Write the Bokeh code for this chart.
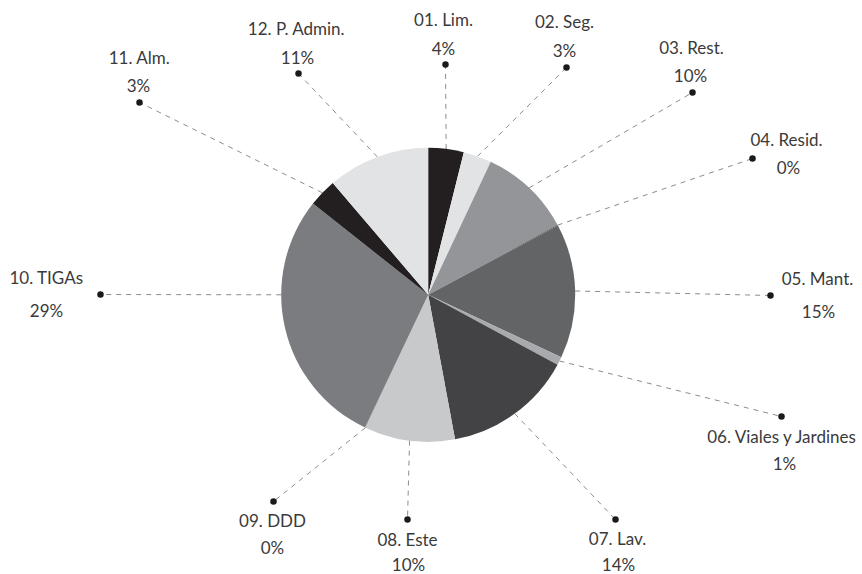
import math
from bokeh.plotting import figure
from bokeh.models import Range1d, ColumnDataSource
from bokeh.core.properties import value
from bokeh.embed import file_html
from bokeh.resources import INLINE

# ---------------- data ----------------
categories = ["01. Lim.", "02. Seg.", "03. Rest.", "04. Resid.", "05. Mant.",
              "06. Viales y Jardines", "07. Lav.", "08. Este", "09. DDD",
              "10. TIGAs", "11. Alm.", "12. P. Admin."]
values = [3.9, 3.1, 10.1, 0.1, 14.8, 0.9, 14.2, 9.9, 0.1, 28.6, 3.1, 11.25]

# ---------------- styles ----------------
colors = ["#231f20", "#e2e3e4", "#939598", "#58595b", "#636466", "#a8aaad",
          "#434345", "#c8c9cb", "#b0b1b3", "#7b7c7f", "#231f20", "#e2e3e4"]

# ---------------- layout (screen pixels) ----------------
W, H = 862, 574
CX, CY, R = 427.7, 294.3, 147.0
dot_pos = [(445, 64), (566, 67), (692, 92), (752, 158), (770, 295), (781, 416),
           (615, 519), (407, 519), (273, 501), (100, 294), (139, 102), (298, 73)]
name_off = [(-2, -45), (-2, -46), (-1, -45), (34, -19), (47, -17), (1, 20),
            (2, 19), (0, 19.5), (-1, 18.5), (-54, -17.5), (0, -45), (-2, -45)]
pct_off = [(-2, -16), (-2, -17), (-2, -17), (36, 9), (48, 16), (3, 47),
           (3, 45), (1, 45), (-1, 46), (-54, 15.5), (-1, -17), (-1, -16)]
anchor_override = {"10. TIGAs": 0.75}

FONT = "Lato"
FONT_SIZE = "17px"
TEXT_COLOR = "#3a3a3a"


def sy(y):
    return H - y


total = sum(values)
fracs = [v / total for v in values]
cum = [0.0]
for f in fracs:
    cum.append(cum[-1] + f)

starts = [math.pi / 2 - 2 * math.pi * cum[i + 1] for i in range(len(values))]
ends = [math.pi / 2 - 2 * math.pi * cum[i] for i in range(len(values))]
pcts = ["%d%%" % round(f * 100) for f in fracs]

p = figure(width=W, height=H, x_range=Range1d(0, W), y_range=Range1d(0, H),
           output_backend="svg", toolbar_location=None,
           x_axis_type=None, y_axis_type=None, min_border=0)
p.min_border_left = p.min_border_right = p.min_border_top = p.min_border_bottom = 0
p.grid.visible = False
p.outline_line_color = None
p.background_fill_color = "white"
p.border_fill_color = "white"

# leader lines
x0s, y0s, x1s, y1s = [], [], [], []
for i, cat in enumerate(categories):
    mid = anchor_override.get(cat, (cum[i] + cum[i + 1]) / 2)
    a = 2 * math.pi * mid
    ex = CX + R * math.sin(a)
    ey = CY - R * math.cos(a)
    x0s.append(ex)
    y0s.append(sy(ey))
    x1s.append(dot_pos[i][0])
    y1s.append(sy(dot_pos[i][1]))
p.segment(x0=x0s, y0=y0s, x1=x1s, y1=y1s, line_color="#8c8c8c",
          line_width=1, line_dash="5 5")

# pie
src = ColumnDataSource(dict(start=starts, end=ends, color=colors, cat=categories))
p.wedge(x=CX, y=sy(CY), radius=R, start_angle="start", end_angle="end",
        direction="anticlock", fill_color="color", line_color=None, source=src)

# dots
p.scatter(x=x1s, y=y1s, size=6.5, fill_color="#1a1a1a", line_color=None)

# labels
nx = [dot_pos[i][0] + name_off[i][0] for i in range(len(categories))]
ny = [sy(dot_pos[i][1] + name_off[i][1]) for i in range(len(categories))]
px = [dot_pos[i][0] + pct_off[i][0] for i in range(len(categories))]
py = [sy(dot_pos[i][1] + pct_off[i][1]) for i in range(len(categories))]
p.text(x=nx, y=ny, text=categories, text_font=value(FONT), text_font_size=FONT_SIZE,
       text_color=TEXT_COLOR, text_align="center", text_baseline="middle")
p.text(x=px, y=py, text=pcts, text_font=value(FONT), text_font_size=FONT_SIZE,
       text_color=TEXT_COLOR, text_align="center", text_baseline="middle")

open("out.html", "w").write(file_html(p, INLINE))
